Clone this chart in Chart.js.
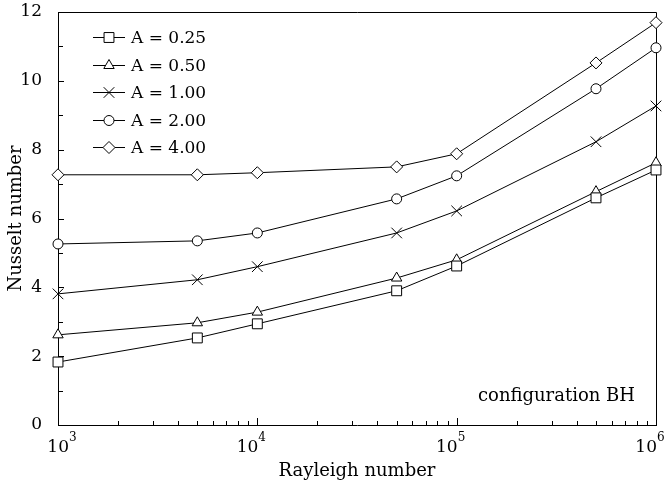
<!DOCTYPE html>
<html>
<head>
<meta charset="utf-8">
<script src="https://cdn.jsdelivr.net/npm/chart.js@4/dist/chart.umd.min.js"></script>
<style>
  html, body { margin: 0; padding: 0; background: #fff; }
  #wrap { width: 669px; height: 486px; }
</style>
</head>
<body>
<div id="wrap"><canvas id="chart"></canvas></div>
<script>
/* ── data ────────────────────────────────────────────────── */

const RAYLEIGH = [1e3, 5e3, 1e4, 5e4, 1e5, 5e5, 1e6];

const NU_A025 = [1.83, 2.53, 2.94, 3.90, 4.62, 6.60, 7.41];
const NU_A050 = [2.62, 2.97, 3.28, 4.27, 4.80, 6.78, 7.62];
const NU_A100 = [3.81, 4.22, 4.60, 5.58, 6.22, 8.23, 9.27];
const NU_A200 = [5.26, 5.35, 5.58, 6.57, 7.24, 9.77, 10.96];
const NU_A400 = [7.27, 7.27, 7.33, 7.50, 7.88, 10.52, 11.69];

const SERIES_LABELS = ["A = 0.25", "A = 0.50", "A = 1.00", "A = 2.00", "A = 4.00"];

const X_TICK_VALUES    = [1e3, 1e4, 1e5, 1e6];
const X_TICK_EXPONENTS = ["3", "4", "5", "6"];
const Y_TICK_VALUES    = [0, 2, 4, 6, 8, 10, 12];
const Y_MINOR_TICKS    = [1, 3, 5, 7, 9, 11];

/* ── look ────────────────────────────────────────────────── */

const FONT_FAMILY = '"DejaVu Serif", "Liberation Serif", serif';
const MARKERS = [
  { style: "rect",     radius: 7 },
  { style: "triangle", radius: 6 },
  { style: "crossRot", radius: 7.5 },
  { style: "circle",   radius: 5 },
  { style: "rectRot",  radius: 6 },
];

function makeSeries(label, values, marker) {
  return {
    label,
    data: RAYLEIGH.map((x, i) => ({ x, y: values[i] })),
    borderColor: "#000",
    borderWidth: 1,
    pointStyle: marker.style,
    pointRadius: marker.radius,
    pointHoverRadius: marker.radius,
    pointBackgroundColor: "#fff",
    pointBorderColor: "#000",
    pointBorderWidth: 1,
    fill: false,
    tension: 0,
    clip: false,
  };
}

const allValues = [NU_A025, NU_A050, NU_A100, NU_A200, NU_A400];
const datasets = allValues.map((v, i) => makeSeries(SERIES_LABELS[i], v, MARKERS[i]));

/* ── decorations: frame, inward ticks, labels, legend ───── */

const decorations = {
  id: "decorations",
  beforeDatasetsDraw(chart) {
    const { ctx, chartArea: a, scales: { x, y } } = chart;
    ctx.save();
    ctx.strokeStyle = "#000";
    ctx.lineWidth = 1;
    ctx.beginPath();
    // top and right edge of the frame
    ctx.moveTo(Math.round(a.left), Math.round(a.top) + 0.5);
    ctx.lineTo(Math.round(a.right) + 0.5, Math.round(a.top) + 0.5);
    ctx.lineTo(Math.round(a.right) + 0.5, Math.round(a.bottom));

    // y ticks pointing inward
    Y_TICK_VALUES.forEach(v => {
      const py = Math.round(y.getPixelForValue(v)) + 0.5;
      ctx.moveTo(a.left, py); ctx.lineTo(a.left + 6, py);
    });
    Y_MINOR_TICKS.forEach(v => {
      const py = Math.round(y.getPixelForValue(v)) + 0.5;
      ctx.moveTo(a.left, py); ctx.lineTo(a.left + 5, py);
    });

    // x log ticks pointing inward
    for (let e = 3; e <= 6; e++) {
      for (let m = 1; m <= 9; m++) {
        const v = m * Math.pow(10, e);
        if (v > 1e6) break;
        const px = Math.round(x.getPixelForValue(v)) + 0.5;
        const len = m === 1 ? 7 : 4;
        ctx.moveTo(px, a.bottom); ctx.lineTo(px, a.bottom - len);
      }
    }
    ctx.stroke();
    ctx.restore();
  },
  afterDraw(chart) {
    const { ctx, chartArea: a, scales: { x, y } } = chart;
    ctx.save();
    ctx.fillStyle = "#000";

    // y tick labels
    ctx.font = `17px ${FONT_FAMILY}`;
    ctx.textAlign = "right";
    ctx.textBaseline = "middle";
    Y_TICK_VALUES.forEach(v => {
      ctx.fillText(String(v), 42, y.getPixelForValue(v));
    });

    // x tick labels as powers of ten
    ctx.textBaseline = "alphabetic";
    X_TICK_VALUES.forEach((v, i) => {
      const px = x.getPixelForValue(v) + 1 + (i === 0 ? 10 : 0);
      ctx.font = `17px ${FONT_FAMILY}`;
      ctx.textAlign = "right";
      ctx.fillText("10", px, 452);
      ctx.font = `12px ${FONT_FAMILY}`;
      ctx.textAlign = "left";
      ctx.fillText(X_TICK_EXPONENTS[i], px, 441);
    });

    // legend
    const lx0 = 93, lx1 = 125, lmid = 109;
    chart.data.datasets.forEach((ds, i) => {
      const ly = Math.round(37 + i * 27.5) + 0.5;
      ctx.strokeStyle = "#000";
      ctx.lineWidth = 1;
      ctx.beginPath();
      ctx.moveTo(lx0, ly);
      ctx.lineTo(lx1, ly);
      ctx.stroke();
      ctx.fillStyle = "#fff";
      Chart.helpers.drawPoint(ctx, {
        pointStyle: ds.pointStyle,
        radius: ds.pointRadius,
        borderWidth: 1,
        rotation: 0,
      }, lmid, ly);
      ctx.fillStyle = "#000";
      ctx.font = `17px ${FONT_FAMILY}`;
      ctx.textAlign = "left";
      ctx.textBaseline = "middle";
      ctx.fillText(ds.label, 131, ly + 1);
    });

    // annotation
    ctx.textAlign = "right";
    ctx.textBaseline = "alphabetic";
    ctx.font = `18px ${FONT_FAMILY}`;
    ctx.fillText("configuration BH", a.right - 21, 401);
    ctx.restore();
  },
};

/* ── chart ───────────────────────────────────────────────── */

new Chart(document.getElementById("chart"), {
  type: "line",
  data: { datasets },
  options: {
    responsive: true,
    maintainAspectRatio: false,
    animation: false,
    layout: { padding: { top: 12, right: 13, left: 0, bottom: 0 } },
    plugins: { legend: { display: false }, tooltip: { enabled: false } },
    scales: {
      x: {
        type: "logarithmic",
        min: 1e3,
        max: 1e6,
        grid: { display: false, drawTicks: false },
        border: { display: true, color: "#000", width: 1 },
        ticks: { display: false },
        title: {
          display: true,
          text: "Rayleigh number",
          color: "#000",
          font: { family: FONT_FAMILY, size: 18 },
          padding: { top: 0, bottom: 4 },
        },
        afterFit(s) { s.height = 61; },
      },
      y: {
        type: "linear",
        min: 0,
        max: 12,
        grid: { display: false, drawTicks: false },
        border: { display: true, color: "#000", width: 1 },
        ticks: { display: false, stepSize: 2 },
        title: {
          display: true,
          text: "Nusselt number",
          color: "#000",
          font: { family: FONT_FAMILY, size: 18 },
          padding: { top: 6, bottom: 0 },
        },
        afterFit(s) { s.width = 58; },
      },
    },
  },
  plugins: [decorations],
});
</script>
</body>
</html>
